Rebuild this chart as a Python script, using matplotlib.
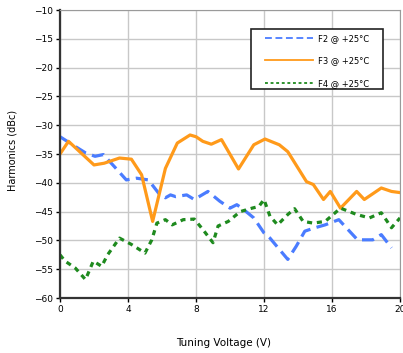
import matplotlib
matplotlib.use("Agg")
import matplotlib.pyplot as plt
from matplotlib.patches import Rectangle

# F2 harmonic (blue, long dashes)
f2_v = [0, 0.9, 1.5, 2.06, 2.55, 3.2, 3.9, 4.5, 5.2, 5.8, 6.2, 6.5, 6.8, 7.45, 7.9,
        8.7, 9.4, 10.0, 10.4, 10.7, 11.4, 12.0, 12.35, 13.0, 13.4, 13.9, 14.4,
        15.0, 15.6, 16.4, 17.5, 18.4, 18.9, 19.5]
f2_db = [-32, -33.7, -34.8, -35.4, -35.1, -37.2, -39.5, -39.2, -39.5, -41.8, -42.6,
         -42.1, -42.4, -42.1, -42.9, -41.5, -43.2, -44.4, -43.8, -44.4, -46.1,
         -48.7, -49.6, -51.9, -53.3, -51.0, -48.4, -47.8, -47.3, -46.4, -49.9,
         -49.9, -49.0, -51.3]

# F3 harmonic (orange, solid)
f3_v = [0, 0.5, 2.0, 2.6, 3.5, 4.2, 4.8, 5.45, 6.2, 6.9, 7.65, 8.0, 8.4, 8.9, 9.5,
        10.5, 11.4, 12.06, 12.9, 13.4, 14.5, 14.9, 15.5, 15.9, 16.5, 17.45, 17.9,
        18.9, 19.5, 20]
f3_db = [-35, -32.8, -36.9, -36.6, -35.7, -35.9, -38.6, -46.7, -37.5, -33.1, -31.7,
         -32.0, -32.8, -33.3, -32.5, -37.6, -33.4, -32.4, -33.4, -34.6, -39.8,
         -40.3, -42.9, -41.5, -44.4, -41.5, -42.9, -40.9, -41.5, -41.7]

# F4 harmonic (green, short dashes)
f4_v = [0, 0.3, 0.9, 1.5, 1.96, 2.45, 2.8, 3.5, 4.2, 5.0, 5.4, 5.7, 6.2, 6.6, 7.25,
        7.9, 8.4, 9.0, 9.3, 9.9, 10.6, 11.3, 11.7, 12.0, 12.35, 12.8, 13.4, 13.8,
        14.3, 14.9, 15.6, 16.5, 17.45, 18.2, 18.9, 19.5, 20]
f4_db = [-52.5, -53.6, -54.8, -56.8, -53.6, -54.5, -52.5, -49.6, -50.7, -52.2,
         -49.9, -47.0, -46.4, -47.3, -46.4, -46.3, -48.1, -50.4, -47.5, -46.7,
         -45.0, -44.4, -44.1, -42.9, -45.8, -47.3, -45.5, -44.5, -46.7, -47.0,
         -46.7, -44.4, -45.5, -46.1, -45.2, -47.8, -46.1]

x_ticks = [0, 4, 8, 12, 16, 20]
y_ticks = list(range(-60, -5, 5))


def main():
    fig = plt.figure(figsize=(4.03, 3.53), dpi=100)
    ax = fig.add_axes([60 / 403, 1 - 298 / 353, 340 / 403, 288 / 353])

    ax.plot(f2_v, f2_db, color="#4a7cff", lw=2.3, dashes=(3.8, 2.0),
            label="F2 @ +25°C")
    ax.plot(f3_v, f3_db, color="#ff9a1a", lw=2.3, label="F3 @ +25°C")
    ax.plot(f4_v, f4_db, color="#1e8a1e", lw=2.3, dashes=(1.6, 1.5),
            label="F4 @ +25°C")

    ax.set_xlim(0, 20)
    ax.set_ylim(-60, -10)
    ax.set_xticks(x_ticks)
    ax.set_yticks(y_ticks)
    ax.tick_params(labelsize=6.5, length=3, width=1, pad=2)
    ax.grid(True, color="#c8c8c8", lw=1)
    ax.set_axisbelow(True)
    for side in ("top", "right"):
        ax.spines[side].set_color("#9a9a9a")
        ax.spines[side].set_linewidth(0.8)
    for side in ("left", "bottom"):
        ax.spines[side].set_color("#333333")
        ax.spines[side].set_linewidth(1.6)

    ax.set_xlabel("Tuning Voltage (V)", fontsize=7.5)
    ax.xaxis.set_label_coords(0.482, -0.14)
    ax.set_ylabel("Harmonics (dBc)", fontsize=7)
    ax.yaxis.set_label_coords(-0.126, 0.514)

    # legend box drawn separately so its padding can match the original
    box = Rectangle((191 / 340, 1 - 79 / 288), 132 / 340, 60 / 288,
                    transform=ax.transAxes, facecolor="white",
                    edgecolor="#222222", lw=1.2, zorder=5)
    ax.add_patch(box)
    leg = ax.legend(loc="upper left", bbox_to_anchor=(205 / 340, 1 - 24 / 288),
                    fontsize=6, frameon=False, handlelength=5.8,
                    borderpad=0, labelspacing=1.6, borderaxespad=0,
                    handletextpad=0.5)
    leg.set_zorder(6)
    for line in leg.get_lines():
        line.set_linewidth(1.3)

    fig.savefig("out.png", dpi=100)


if __name__ == "__main__":
    main()
